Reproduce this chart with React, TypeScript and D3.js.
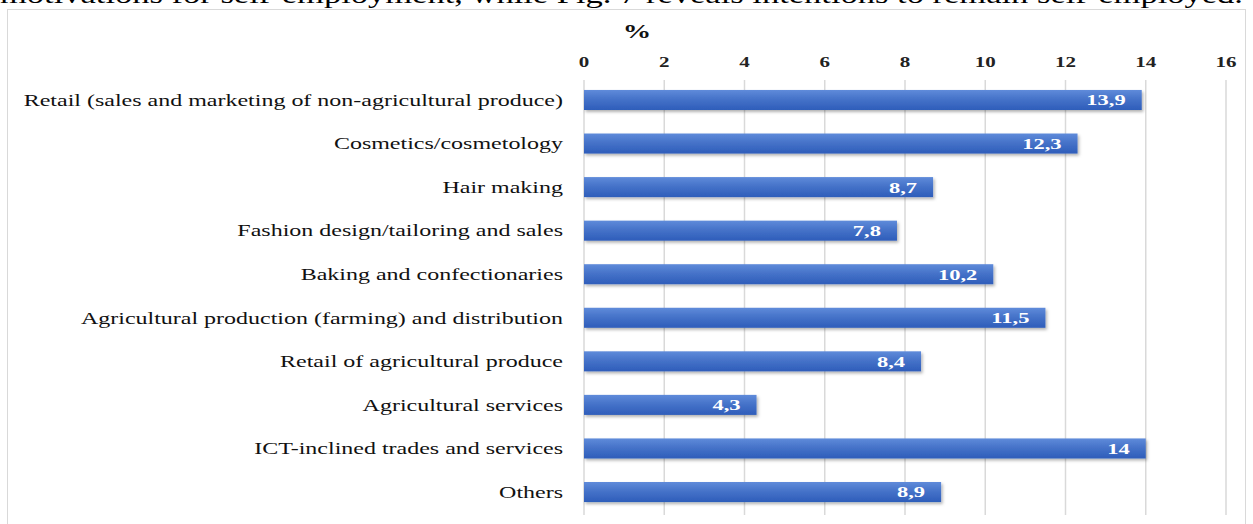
import React from 'react';
import * as d3 from 'd3';

const categories = [
  'Retail (sales and marketing of non-agricultural produce)',
  'Cosmetics/cosmetology',
  'Hair making',
  'Fashion design/tailoring and sales',
  'Baking and confectionaries',
  'Agricultural production (farming) and distribution',
  'Retail of agricultural produce',
  'Agricultural services',
  'ICT-inclined trades and services',
  'Others',
];
const values = [13.9, 12.3, 8.7, 7.8, 10.2, 11.5, 8.4, 4.3, 14, 8.9];
const tickValues = [0, 2, 4, 6, 8, 10, 12, 14, 16];
const axisTitle = '%';
const captionText = 'motivations for self-employment, while Fig. 7 reveals intentions to remain self-employed.';

const width = 1253;
const height = 524;
const serif = '"Liberation Serif", "Times New Roman", serif';
// the source picture is stretched sideways, so text is widened to match
const sx = 1.5;

const fmt = (v: number) => String(v).replace('.', ',');

const App: React.FC = () => {
  const x = d3.scaleLinear().domain([0, 16]).range([584, 1226]);
  const y = d3
    .scaleBand<string>()
    .domain(categories)
    .range([78.2, 513.8])
    .paddingInner(0.54)
    .paddingOuter(0.27);
  const bw = y.bandwidth();

  return (
    <div style={{ position: 'absolute', left: 0, top: 0 }}>
      <svg width={width} height={height} style={{ display: 'block', background: '#fff' }}>
        <defs>
          <linearGradient id="barGrad" x1="0" y1="0" x2="0" y2="1">
            <stop offset="0%" stopColor="#5f8bda" />
            <stop offset="45%" stopColor="#4673c9" />
            <stop offset="100%" stopColor="#2e5dba" />
          </linearGradient>
          <filter id="shadow" x="-5%" y="-30%" width="110%" height="170%">
            <feDropShadow dx="1.5" dy="2" stdDeviation="1.5" floodColor="#000" floodOpacity="0.3" />
          </filter>
        </defs>

        {/* cut-off caption line from the page above */}
        <text
          x={0}
          y={3}
          fontFamily={serif}
          fontSize={25}
          fill="#000"
          textLength={1243}
          lengthAdjust="spacingAndGlyphs"
        >
          {captionText}
        </text>

        {/* chart frame */}
        <rect x={7.5} y={9.5} width={1238} height={520} fill="none" stroke="#d9d9d9" strokeWidth={1} />

        {/* gridlines */}
        {tickValues.map(t => (
          <line
            key={`g${t}`}
            x1={x(t)}
            x2={x(t)}
            y1={80}
            y2={515}
            stroke="#d9d9d9"
            strokeWidth={1.5}
          />
        ))}

        {/* tick labels */}
        {tickValues.map(t => (
          <g key={`t${t}`} transform={`translate(${x(t)},67) scale(${sx},1)`}>
            <text
              textAnchor="middle"
              fontFamily={serif}
              fontSize={14}
              fontWeight="bold"
              fill="#222"
            >
              {t}
            </text>
          </g>
        ))}

        <g transform={`translate(637,38) scale(${sx},1)`}>
          <text textAnchor="middle" fontFamily={serif} fontSize={19} fontWeight="bold" fill="#111">
            {axisTitle}
          </text>
        </g>

        {/* bars */}
        {categories.map((c, i) => {
          const y0 = y(c) ?? 0;
          const cy = y0 + bw / 2;
          return (
            <g key={c}>
              <rect
                x={x(0)}
                y={y0}
                width={x(values[i]) - x(0)}
                height={bw}
                fill="url(#barGrad)"
                filter="url(#shadow)"
              />
              <g transform={`translate(${x(values[i]) - 16},${cy}) scale(${sx},1)`}>
                <text
                  dy="0.36em"
                  textAnchor="end"
                  fontFamily={serif}
                  fontSize={15}
                  fontWeight="bold"
                  fill="#fff"
                >
                  {fmt(values[i])}
                </text>
              </g>
              <g transform={`translate(563,${cy}) scale(${sx},1)`}>
                <text
                  dy="0.36em"
                  textAnchor="end"
                  fontFamily={serif}
                  fontSize={16}
                  fill="#111"
                >
                  {c}
                </text>
              </g>
            </g>
          );
        })}
      </svg>
    </div>
  );
};

export default App;
